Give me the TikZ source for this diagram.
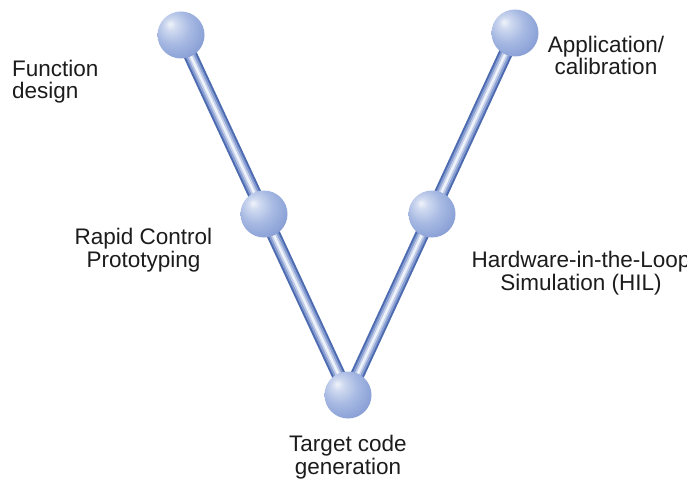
\documentclass[tikz,border=0pt]{standalone}
\usepackage{fontspec}
\setmainfont{Liberation Sans}
\usetikzlibrary{backgrounds}
\definecolor{sphA}{HTML}{F0F3FA}
\definecolor{sphB}{HTML}{D0DAF0}
\definecolor{sphC}{HTML}{A8BAE3}
\definecolor{sphD}{HTML}{8EA4D8}
\definecolor{sphE}{HTML}{7189C8}
\definecolor{sphF}{HTML}{5A74B6}
\definecolor{roddark}{HTML}{4D6BB0}
\definecolor{rodmid}{HTML}{889ED2}
\definecolor{rodlight}{HTML}{C0CBE8}
\definecolor{rodhi}{HTML}{EEF2F9}
\definecolor{labeltext}{HTML}{1C1C1C}
\pgfdeclareradialshading{sphereshade}{\pgfpoint{-12bp}{12bp}}{%
  color(0bp)=(sphA); color(6bp)=(sphB); color(18bp)=(sphC);
  color(30bp)=(sphD); color(44bp)=(sphE); color(62bp)=(sphF)}
\newcommand{\rodline}[2]{%
  \draw[line width=14pt, roddark] (#1.center) -- (#2.center);
  \draw[line width=10pt, rodmid] (#1.center) -- (#2.center);
  \draw[line width=6pt, rodlight] (#1.center) -- (#2.center);
  \draw[line width=2.5pt, rodhi] (#1.center) -- (#2.center);}
\begin{document}
\begin{tikzpicture}[x=1pt,y=-1pt,
  ball/.style={circle, minimum size=47pt, inner sep=0pt, shading=sphereshade},
  lbl/.style={font=\fontsize{22.5}{22.5}\selectfont, text=labeltext, inner sep=0pt, anchor=base}]
\useasboundingbox (0,0) rectangle (687,481);
\node[ball] (tl) at (181,35) {};
\node[ball] (ml) at (264,214) {};
\node[ball] (bot) at (348,395) {};
\node[ball] (mr) at (432,214) {};
\node[ball] (tr) at (515,33) {};
\begin{scope}[on background layer]
  \fill[white] (0,0) rectangle (687,481);
  \rodline{tl}{bot}
  \rodline{tr}{bot}
\end{scope}
\node[lbl, align=left, anchor=base west] (fd) at (12,99) {Function\\design};
\node[lbl, align=center] (ac) at (606,75) {Application/\\calibration};
\node[lbl, align=center] (rcp) at (143.5,267) {Rapid Control\\Prototyping};
\node[lbl, align=center] (hil) at (581,290) {Hardware-in-the-Loop\\Simulation (HIL)};
\node[lbl, align=center] (tcg) at (348,474) {Target code\\generation};
\end{tikzpicture}
\end{document}
